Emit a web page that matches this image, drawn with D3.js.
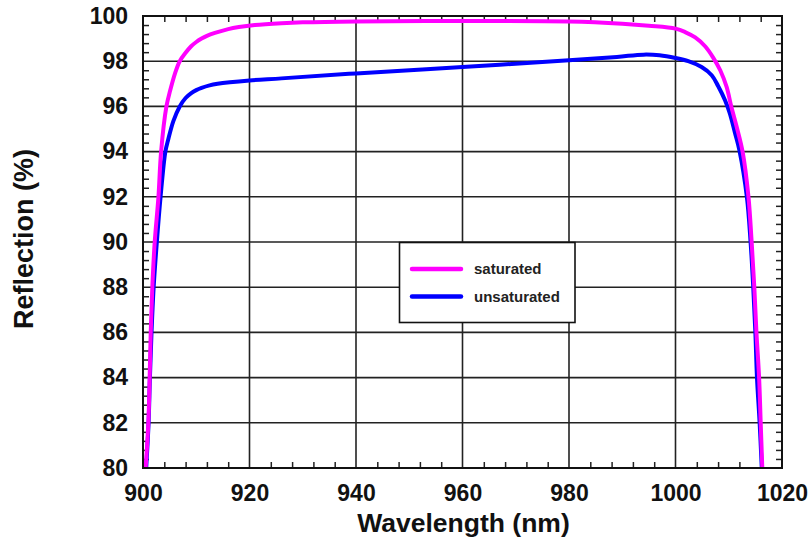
<!DOCTYPE html>
<html><head><meta charset="utf-8">
<script src="https://cdn.jsdelivr.net/npm/d3@7"></script>
<style>body{margin:0;background:#fff}svg{display:block}</style>
</head><body>
<script>
const xTicks = [900, 920, 940, 960, 980, 1000, 1020];
const yTicks = [80, 82, 84, 86, 88, 90, 92, 94, 96, 98, 100];
const seriesNames = ["saturated", "unsaturated"];
const seriesColors = ["#ff00ff", "#0000ff"];

const satWl = [900.5, 901.0, 901.25, 901.45, 901.75, 902.2, 902.9, 903.4, 904.4, 905.1, 906.0, 906.9, 908, 909, 910, 911, 912, 913.5, 916, 918, 921, 926, 930, 940, 960, 980, 990, 995, 1000, 1001.8, 1003.7, 1005.6, 1007.1, 1008.4, 1009.6, 1010.5, 1011.5, 1012.6, 1013.7, 1014.3, 1014.8, 1015.2, 1015.7, 1016.0, 1016.3];
const satR  = [80, 82, 84, 86, 88, 90, 92, 94, 96, 96.7, 97.45, 98, 98.37, 98.65, 98.85, 99.0, 99.12, 99.25, 99.42, 99.51, 99.6, 99.68, 99.72, 99.76, 99.78, 99.76, 99.66, 99.57, 99.44, 99.29, 99.05, 98.65, 98.15, 97.6, 96.86, 95.97, 95.09, 94, 92, 90, 88, 86, 84, 82, 80];

const unsWl = [900.6, 901.05, 901.3, 901.6, 902.0, 902.6, 903.3, 904.2, 904.7, 905.7, 906.9, 908, 909, 910, 911, 912.5, 914, 916.3, 920, 926, 940, 960, 980, 989, 994, 997, 1000, 1002.4, 1004.9, 1006.8, 1008, 1009.3, 1010.2, 1011.2, 1012.0, 1013.4, 1014.1, 1014.6, 1015.0, 1015.3, 1015.8, 1016.2];
const unsR  = [80, 82, 84, 86, 88, 90, 92, 94, 94.5, 95.35, 96, 96.37, 96.58, 96.72, 96.82, 96.93, 97.0, 97.07, 97.15, 97.24, 97.46, 97.74, 98.04, 98.19, 98.29, 98.26, 98.14, 98.0, 97.74, 97.38, 96.9, 96.27, 95.69, 94.8, 94.06, 92, 90, 88, 86, 84, 82, 80];

const W = 812, H = 540;
const m = {l: 143, r: 782, t: 16, b: 468};
const svg = d3.select("body").append("svg").attr("width", W).attr("height", H);
const x = d3.scaleLinear().domain([900, 1020]).range([m.l, m.r]);
const y = d3.scaleLinear().domain([80, 100]).range([m.b, m.t]);

// grid
const g = svg.append("g");
g.selectAll("line.vx").data(xTicks.slice(1, -1)).join("line")
  .attr("x1", d => x(d)).attr("x2", d => x(d)).attr("y1", m.t).attr("y2", m.b)
  .attr("stroke", "#222").attr("stroke-width", 1.6);
g.selectAll("line.hy").data(yTicks.slice(1, -1)).join("line")
  .attr("y1", d => y(d)).attr("y2", d => y(d)).attr("x1", m.l).attr("x2", m.r)
  .attr("stroke", "#222").attr("stroke-width", 1.6);

// minor ticks
const xMinor = d3.range(900, 1020.01, 4).filter(v => v % 20 !== 0);
const yMinor = d3.range(80, 100.01, 0.4).map(v => +v.toFixed(1)).filter(v => Math.abs(v/2 - Math.round(v/2)) > 1e-6);
const tl = 6;
const axB = svg.append("g").attr("transform", `translate(0,${m.b})`)
  .call(d3.axisBottom(x).tickValues(xMinor).tickSizeInner(-tl).tickSizeOuter(0).tickFormat(""));
const axT = svg.append("g").attr("transform", `translate(0,${m.t})`)
  .call(d3.axisTop(x).tickValues(xMinor).tickSizeInner(-tl).tickSizeOuter(0).tickFormat(""));
const axL = svg.append("g").attr("transform", `translate(${m.l},0)`)
  .call(d3.axisLeft(y).tickValues(yMinor).tickSizeInner(-tl).tickSizeOuter(0).tickFormat(""));
const axR = svg.append("g").attr("transform", `translate(${m.r},0)`)
  .call(d3.axisRight(y).tickValues(yMinor).tickSizeInner(-tl).tickSizeOuter(0).tickFormat(""));
[axB, axT, axL, axR].forEach(a => {
  a.select(".domain").remove();
  a.selectAll("line").attr("stroke", "#222").attr("stroke-width", 1.5);
});

// major tick labels
const lblB = svg.append("g").attr("transform", `translate(0,${m.b})`)
  .call(d3.axisBottom(x).tickValues(xTicks).tickSize(0).tickPadding(33).tickFormat(d3.format("d")));
lblB.select(".domain").remove();
lblB.selectAll("text").attr("font-family", "Liberation Sans, Arial, sans-serif")
  .attr("font-weight", "bold").attr("font-size", 23).attr("fill", "#111").attr("dy", 0);
const lblL = svg.append("g").attr("transform", `translate(${m.l},0)`)
  .call(d3.axisLeft(y).tickValues(yTicks).tickSize(0).tickPadding(15).tickFormat(d3.format("d")));
lblL.select(".domain").remove();
lblL.selectAll("text").attr("font-family", "Liberation Sans, Arial, sans-serif")
  .attr("font-weight", "bold").attr("font-size", 23).attr("fill", "#111");

// clip + lines
svg.append("clipPath").attr("id", "clip").append("rect")
  .attr("x", m.l).attr("y", m.t - 3).attr("width", m.r - m.l).attr("height", m.b - m.t + 3);
const line = d3.line().x(d => x(d[0])).y(d => y(d[1])).curve(d3.curveCatmullRom.alpha(0.5));
const series = [d3.zip(satWl, satR), d3.zip(unsWl, unsR)];
const lg = svg.append("g").attr("clip-path", "url(#clip)");
[1, 0].forEach(i => {
  lg.append("path").datum(series[i]).attr("d", line)
    .attr("fill", "none").attr("stroke", seriesColors[i]).attr("stroke-width", 4)
    .attr("stroke-linejoin", "round").attr("stroke-linecap", "round");
});

// frame
svg.append("rect").attr("x", m.l).attr("y", m.t).attr("width", m.r - m.l).attr("height", m.b - m.t)
  .attr("fill", "none").attr("stroke", "#111").attr("stroke-width", 2);

// axis titles
svg.append("text").attr("x", (m.l + m.r) / 2 + 1).attr("y", 532).attr("text-anchor", "middle")
  .attr("font-family", "Liberation Sans, Arial, sans-serif").attr("font-weight", "bold")
  .attr("font-size", 26.5).attr("fill", "#111").text("Wavelength (nm)");
svg.append("text").attr("transform", "translate(33,239) rotate(-90)").attr("text-anchor", "middle")
  .attr("font-family", "Liberation Sans, Arial, sans-serif").attr("font-weight", "bold")
  .attr("font-size", 27).attr("fill", "#111").text("Reflection (%)");

// legend
const leg = svg.append("g");
leg.append("rect").attr("x", 399.5).attr("y", 242.5).attr("width", 175.5).attr("height", 80)
  .attr("fill", "#fff").attr("stroke", "#111").attr("stroke-width", 1.6);
seriesNames.forEach((n, i) => {
  const yy = 269 + i * 27.5;
  leg.append("line").attr("x1", 412).attr("x2", 461).attr("y1", yy).attr("y2", yy)
    .attr("stroke", seriesColors[i]).attr("stroke-width", 4.5).attr("stroke-linecap", "round");
  leg.append("text").attr("x", 474).attr("y", yy + 5).attr("font-family", "Liberation Sans, Arial, sans-serif")
    .attr("font-weight", "bold").attr("font-size", 15).attr("fill", "#222").text(n);
});
</script>
</body></html>
